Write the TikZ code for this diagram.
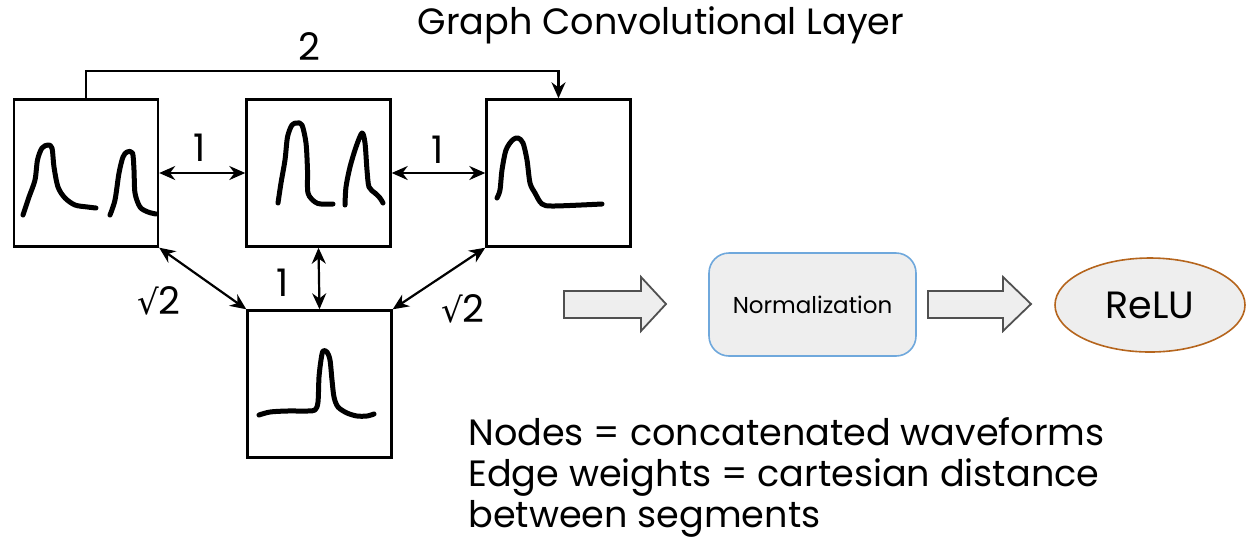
\documentclass[tikz,border=0pt]{standalone}
\usepackage{fontspec}
\setmainfont{Poppins}
\newfontfamily\symfont{DejaVu Sans}
\usetikzlibrary{arrows.meta,shapes.geometric}
\definecolor{panelfill}{HTML}{EEEEEE}
\definecolor{normedge}{HTML}{6FA8DC}
\definecolor{reluedge}{HTML}{B5651D}
\definecolor{blockedge}{HTML}{505050}
\tikzset{
  graphbox/.style={draw=black, line width=1.2pt, minimum width=72pt, minimum height=73.5pt, inner sep=0pt},
  wave/.style={line width=2.5pt, line cap=round, line join=round},
  link/.style={line width=1.1pt, {Stealth[length=8pt,width=7pt]}-{Stealth[length=8pt,width=7pt]}},
  onelink/.style={line width=1.1pt, -{Stealth[length=8pt,width=7pt]}},
  weight/.style={font=\fontsize{19}{21}\selectfont, inner sep=0pt},
  blockarrow/.style={draw=blockedge, line width=0.9pt, fill=panelfill, line join=miter},
}
\begin{document}
\begin{tikzpicture}[x=0.5pt,y=-0.5pt]
\useasboundingbox (0,0) rectangle (1247,543);

% title
\node[font=\fontsize{18.3}{21}\selectfont] (title) at (661,25) {Graph Convolutional Layer};

% graph nodes
\node[graphbox] (n1) at (86,173) {};
\node[graphbox] (n2) at (318.5,173) {};
\node[graphbox] (n3) at (558.5,173) {};
\node[graphbox] (n4) at (319.5,384) {};

% waveforms inside the nodes
\draw[wave] plot[smooth] coordinates {(23,215) (29,197) (35,180) (37.5,160) (42,148) (48,145) (52,148) (54,167) (58,187) (65,198) (75,205) (87.5,207) (96,208)};
\draw[wave] plot[smooth] coordinates {(110,215) (115,200) (119,173) (123,157) (127,152) (132.5,153) (134,170) (135,193) (140,207) (148,212) (156,214)};
\draw[wave] plot[smooth] coordinates {(278,203) (281,183) (285,160) (287.5,137) (292,125) (297,123) (302,125) (306,143) (307.5,170) (308,193) (315,202) (321,204) (333,204)};
\draw[wave] plot[smooth] coordinates {(345,205) (346,187) (350,167) (356,147) (362,133) (365,143) (367,170) (369,187) (375,193) (380,198) (383,203)};
\draw[wave] plot[smooth] coordinates {(497,198) (500,190) (502,170) (506,150) (512.5,140) (518,138) (523,143) (527,160) (530,183) (535,193) (542,204) (554,206) (602,204)};
\draw[wave] plot[smooth] coordinates {(259,415) (270,412) (287,411) (307,411) (315,410) (318,402) (319,377) (321,360) (323,351) (327,352) (330,360) (332,380) (334,397) (338,407) (347,413) (357,416) (367,416) (374,414)};

% edges
\draw[onelink] (n1.north) -- ++(0,-27) -| (n3.north);
\draw[link] (n1.east) -- (n2.west);
\draw[link] (n2.east) -- (n3.west);
\draw[link] (n2.south) -- (n4.north);
\draw[link] (n1.south east) -- (n4.north west);
\draw[link] (n4.north east) -- (n3.south west);

% edge weights
\node[weight] (w13) at (309,47) {2};
\node[weight] (w12) at (200,148) {1};
\node[weight] (w23) at (438,150) {1};
\node[weight] (w24) at (283,283) {1};
\node[weight] (w14) at (159,301) {{\symfont\fontsize{17}{19}\selectfont √}2};
\node[weight] (w34) at (463,309) {{\symfont\fontsize{17}{19}\selectfont √}2};

% processing stages
\node[draw=normedge, line width=0.8pt, fill=panelfill, rounded corners=10pt,
      minimum width=103.5pt, minimum height=51.5pt, font=\fontsize{11.5}{13}\selectfont]
      (norm) at (812.5,304.5) {Normalization};
\node[ellipse, draw=reluedge, line width=0.8pt, fill=panelfill,
      minimum width=95pt, minimum height=47pt, inner sep=0pt, font=\fontsize{19}{21}\selectfont]
      (relu) at (1150,305) {ReLU};

% block arrows between stages
\draw[blockarrow] (564,291) -- (641,291) -- (641,277) -- (666,304) -- (641,331) -- (641,318) -- (564,318) -- cycle;
\draw[blockarrow] (928,291) -- (1003,291) -- (1003,277) -- (1031,304) -- (1003,331) -- (1003,318) -- (928,318) -- cycle;

% legend
\node[anchor=north west, align=left, inner sep=0pt, font=\fontsize{18.3}{20.5}\selectfont] (legend) at (468,417)
  {Nodes = concatenated waveforms\\Edge weights = cartesian distance\\between segments};
\end{tikzpicture}
\end{document}
